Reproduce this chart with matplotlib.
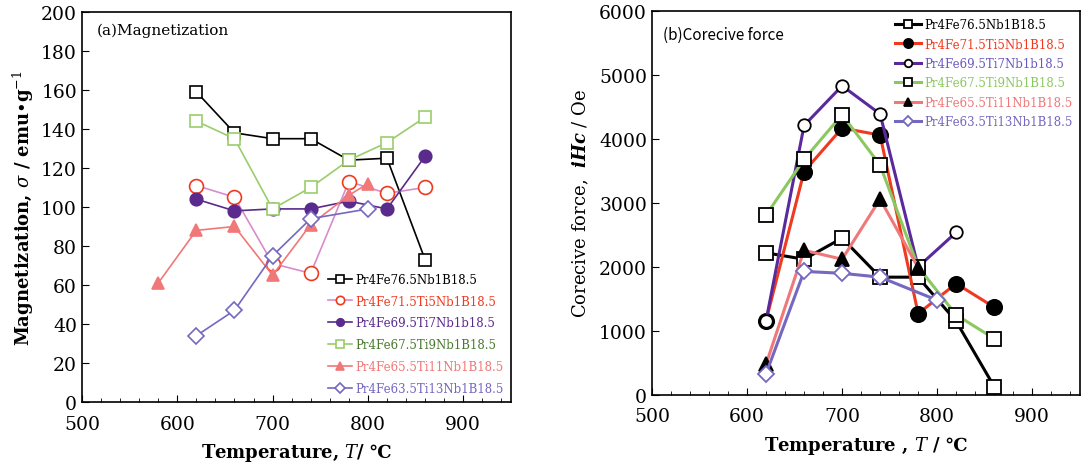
import numpy as np
import matplotlib
matplotlib.use('Agg')
from matplotlib import pyplot as plt
from matplotlib.ticker import MultipleLocator

plt.rcParams['font.family'] = ['DejaVu Serif', 'DejaVu Sans', 'Noto Sans CJK JP']
plt.rcParams['mathtext.fontset'] = 'dejavuserif'

names = ['Pr4Fe76.5Nb1B18.5', 'Pr4Fe71.5Ti5Nb1B18.5', 'Pr4Fe69.5Ti7Nb1b18.5',
         'Pr4Fe67.5Ti9Nb1B18.5', 'Pr4Fe65.5Ti11Nb1B18.5', 'Pr4Fe63.5Ti13Nb1B18.5']

# (a) magnetization
t_a = [[620, 660, 700, 740, 780, 820, 860],
       [620, 660, 700, 740, 780, 820, 860],
       [620, 660, 700, 740, 780, 820, 860],
       [620, 660, 700, 740, 780, 820, 860],
       [580, 620, 660, 700, 740, 780, 800],
       [620, 660, 700, 740, 800]]
mag = [[159, 138, 135, 135, 124, 125, 73],
       [111, 105, 71, 66, 113, 107, 110],
       [104, 98, 99, 99, 103, 99, 126],
       [144, 135, 99, 110, 124, 133, 146],
       [61, 88, 90, 65, 91, 106, 112],
       [34, 47, 75, 94, 99]]

# (b) coercive force
t_b = [[620, 660, 700, 740, 780, 820, 860],
       [620, 660, 700, 740, 780, 820, 860],
       [620, 660, 700, 740, 780, 820],
       [620, 660, 700, 740, 780, 820, 860],
       [620, 660, 700, 740, 780],
       [620, 660, 700, 740, 800]]
ihc = [[2220, 2120, 2450, 1840, 1840, 1150, 130],
       [1160, 3490, 4170, 4060, 1270, 1740, 1370],
       [1160, 4210, 4830, 4390, 2000, 2540],
       [2810, 3680, 4380, 3590, 2000, 1250, 880],
       [480, 2260, 2120, 3060, 1990],
       [330, 1930, 1900, 1840, 1480]]

# styles for (a)
line_a = ['black', '#d88ccc', '#5a2a8c', '#9acd6a', '#f07878', '#7468c0']
mk_a = ['s', 'o', 'o', 's', '^', 'D']
mface_a = ['white', 'white', '#5a2a8c', 'white', '#f07878', 'white']
medge_a = ['black', '#f03a20', '#5a2a8c', '#9acd6a', '#f07878', '#7468c0']
ms_a = [9, 10, 9, 9, 9, 8]
txt_a = ['black', '#f03a20', '#5a2a8c', '#4a7a30', '#f07878', '#7468c0']

# styles for (b)
line_b = ['black', '#f03a20', '#5a2a9c', '#8cc860', '#f07878', '#7468c0']
mk_b = ['s', 'o', 'o', 's', '^', 'D']
mface_b = ['white', 'black', 'white', 'white', 'black', 'white']
medge_b = ['black', 'black', 'black', 'black', 'black', '#7468c0']
ms_b = [10, 11, 9, 10, 10, 8]
txt_b = ['black', '#f03a20', '#6a5ac0', '#8cc860', '#f07878', '#7468c0']

fig = plt.figure(figsize=(10.83, 4.77), dpi=100)
ax1 = fig.add_axes([0.0757, 0.155, 0.396, 0.818])
ax2 = fig.add_axes([0.602, 0.170, 0.395, 0.805])

for i in range(6):
    ax1.plot(t_a[i], mag[i], color=line_a[i], lw=1.2, marker=mk_a[i], ms=ms_a[i],
             mfc=mface_a[i], mec=medge_a[i], mew=1.2, label=names[i])
    ax2.plot(t_b[i], ihc[i], color=line_b[i], lw=2.2, marker=mk_b[i], ms=ms_b[i],
             mfc=mface_b[i], mec=medge_b[i], mew=1.3, label=names[i])

ax1.set_xlim(500, 950)
ax1.set_ylim(0, 200)
ax1.yaxis.set_major_locator(MultipleLocator(20))
ax2.set_xlim(500, 950)
ax2.set_ylim(0, 6000)
ax2.yaxis.set_major_locator(MultipleLocator(1000))

for ax in (ax1, ax2):
    ax.xaxis.set_major_locator(MultipleLocator(100))
    ax.xaxis.set_minor_locator(MultipleLocator(20))
    ax.tick_params(direction='in', which='both', labelsize=13.5, top=False, right=False)
    ax.tick_params(which='major', length=5)
    ax.tick_params(which='minor', length=3)
    ax.tick_params(axis='x', pad=9)
    for s in ax.spines.values():
        s.set_linewidth(1.2)

ax1.set_xlabel('Temperature, $T$/ ℃', fontsize=13, fontweight='bold', labelpad=6)
ax1.set_ylabel(r'Magnetization, $\sigma$ / emu•g$^{-1}$', fontsize=13, fontweight='bold', labelpad=4)
ax2.set_xlabel('Temperature , $T$ / ℃', fontsize=13, fontweight='bold', labelpad=6)
ax2.set_ylabel(r'Corecive force,  $\boldsymbol{iHc}$ / Oe', fontsize=13, labelpad=6)

ax1.text(0.035, 0.955, '(a)Magnetization', transform=ax1.transAxes, fontsize=11, va='center')
ax2.text(0.025, 0.94, '(b)Corecive force', transform=ax2.transAxes, fontsize=11, va='center',
         family=['Noto Sans CJK JP', 'DejaVu Sans'])

leg1 = ax1.legend(loc='lower right', frameon=False, fontsize=8.5, handlelength=2.0,
                  handletextpad=0.3, labelspacing=0.75, borderaxespad=0.2, markerscale=0.6)
for t, c in zip(leg1.get_texts(), txt_a):
    t.set_color(c)
leg2 = ax2.legend(loc='upper right', frameon=False, fontsize=8.5, handlelength=2.2,
                  handletextpad=0.3, labelspacing=0.55, borderaxespad=0.2, markerscale=0.6)
for t, c in zip(leg2.get_texts(), txt_b):
    t.set_color(c)

fig.savefig('out.png', dpi=100)
